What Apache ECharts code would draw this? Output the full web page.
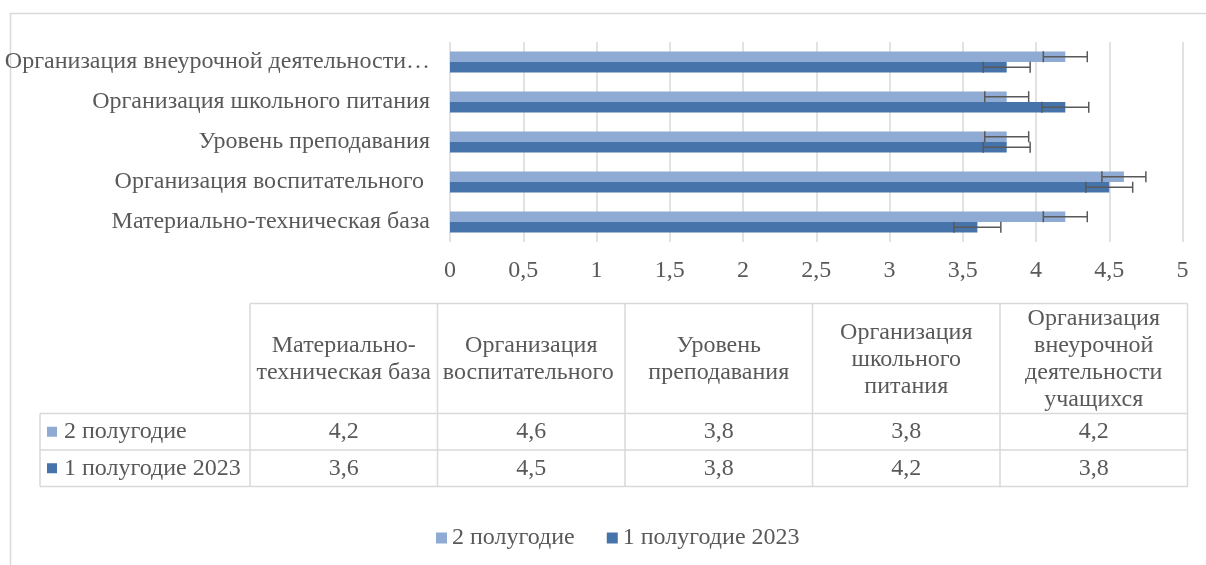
<!DOCTYPE html>
<html>
<head>
<meta charset="utf-8">
<script src="https://cdn.jsdelivr.net/npm/echarts@6/dist/echarts.min.js"></script>
<style>
  html, body { margin: 0; padding: 0; background: #fff; }
  #chart { width: 1206px; height: 565px; }
</style>
</head>
<body>
<div id="chart"></div>
<script>
// --- данные ---
const categories = [
  'Материально-техническая база',
  'Организация воспитательного ',
  'Уровень преподавания',
  'Организация школьного питания',
  'Организация внеурочной деятельности учащихся'
];
const tableHeaders = [
  'Материально-\nтехническая база',
  'Организация\nвоспитательного ',
  'Уровень\nпреподавания',
  'Организация\nшкольного\nпитания',
  'Организация\nвнеурочной\nдеятельности\nучащихся'
];
const seriesNames = ['2 полугодие', '1 полугодие 2023'];
const secondHalf = [4.2, 4.6, 3.8, 3.8, 4.2];
const firstHalf2023 = [3.6, 4.5, 3.8, 4.2, 3.8];
// погрешности (±)
const secondHalfErr = [0.15, 0.15, 0.15, 0.15, 0.15];
const firstHalf2023Err = [0.16, 0.16, 0.16, 0.16, 0.16];

const colors = ['#8FAAD3', '#4673A9'];
const FONT = "'Liberation Serif', 'Times New Roman', serif";
const FS = 24;
const TEXT = '#595959';
const LINE = '#d9d9d9';
const BAR_W = 10.5;

const fmt = v => String(v).replace('.', ',');

// обрезка длинной подписи с многоточием, как в Excel
const ctx = document.createElement('canvas').getContext('2d');
ctx.font = FS + 'px ' + FONT;
function clip(t, maxW) {
  if (ctx.measureText(t).width <= maxW) return t;
  let s = t;
  while (s.length > 1 && ctx.measureText(s.trimEnd() + '…').width > maxW) s = s.slice(0, -1);
  return s.trimEnd() + '…';
}

// --- error bars (custom series) ---
function errorSeries(values, errs, offset) {
  return {
    type: 'custom',
    z: 5,
    silent: true,
    encode: { x: 0, y: 1 },
    data: values.map((v, i) => [v, i, errs[i]]),
    renderItem: (params, api) => {
      const v = api.value(0), c = api.value(1), e = api.value(2);
      const y = api.coord([v, c])[1] + offset;
      const lo = api.coord([v - e, c])[0];
      const hi = api.coord([v + e, c])[0];
      const st = { stroke: '#595959', lineWidth: 1.5 };
      return {
        type: 'group',
        children: [
          { type: 'line', shape: { x1: lo, y1: y, x2: hi, y2: y }, style: st },
          { type: 'line', shape: { x1: lo, y1: y - 5.5, x2: lo, y2: y + 5.5 }, style: st },
          { type: 'line', shape: { x1: hi, y1: y - 5.5, x2: hi, y2: y + 5.5 }, style: st }
        ]
      };
    }
  };
}

// --- таблица данных под графиком ---
function buildTable() {
  const colX = [250, 437.5, 625, 812.5, 1000, 1187.5];
  const legX = 40;
  const rowY = [303.5, 413.5, 450, 486.5];
  const rows = [secondHalf, firstHalf2023];
  const els = [];
  const line = (x1, y1, x2, y2) => els.push({
    type: 'line', shape: { x1, y1, x2, y2 }, style: { stroke: LINE, lineWidth: 1.5 }
  });
  const text = (t, x, y, align) => els.push({
    type: 'text', x, y,
    style: {
      text: t, fill: TEXT, font: FS + 'px ' + FONT,
      align, verticalAlign: 'middle', textAlign: align, textVerticalAlign: 'middle',
      lineHeight: 27
    }
  });
  // линии
  line(colX[0], rowY[0], colX[5], rowY[0]);
  for (let r = 1; r < rowY.length; r++) line(legX, rowY[r], colX[5], rowY[r]);
  colX.forEach(x => line(x, rowY[0], x, rowY[3]));
  line(legX, rowY[1], legX, rowY[3]);
  // заголовки
  tableHeaders.forEach((h, i) => text(h, (colX[i] + colX[i + 1]) / 2, (rowY[0] + rowY[1]) / 2 + 1, 'center'));
  // строки
  rows.forEach((vals, r) => {
    const cy = (rowY[r + 1] + rowY[r + 2]) / 2;
    els.push({ type: 'rect', shape: { x: 47, y: cy - 5, width: 10, height: 10 }, style: { fill: colors[r] } });
    text(seriesNames[r], 64, cy, 'left');
    vals.forEach((v, i) => text(fmt(v), (colX[i] + colX[i + 1]) / 2, cy, 'center'));
  });
  return els;
}

const chart = echarts.init(document.getElementById('chart'));

chart.setOption({
  animation: false,
  textStyle: { fontFamily: FONT },
  grid: { left: 450, right: 23.5, top: 42, height: 200, containLabel: false, outerBoundsMode: 'none' },
  xAxis: {
    type: 'value', min: 0, max: 5, interval: 0.5,
    axisLine: { show: false }, axisTick: { show: false },
    splitLine: { lineStyle: { color: LINE, width: 1.5 } },
    axisLabel: { formatter: fmt, color: TEXT, fontSize: FS, fontFamily: FONT, margin: 17 }
  },
  yAxis: {
    type: 'category', data: categories,
    axisLine: { show: false }, axisTick: { show: false },
    axisLabel: {
      color: TEXT, fontSize: FS, fontFamily: FONT, margin: 20,
      overflow: 'none',
      formatter: t => clip(t, 436)
    }
  },
  legend: {
    data: seriesNames,
    left: 436, top: 526, padding: 0,
    icon: 'rect', itemWidth: 11, itemHeight: 11, itemGap: 32,
    textStyle: { color: TEXT, fontSize: FS, fontFamily: FONT }
  },
  series: [
    { name: seriesNames[0], type: 'bar', data: secondHalf, barWidth: BAR_W, barGap: 0, itemStyle: { color: colors[0] } },
    { name: seriesNames[1], type: 'bar', data: firstHalf2023, barWidth: BAR_W, barGap: 0, itemStyle: { color: colors[1] } },
    errorSeries(secondHalf, secondHalfErr, -BAR_W / 2),
    errorSeries(firstHalf2023, firstHalf2023Err, BAR_W / 2)
  ],
  graphic: [
    { type: 'rect', silent: true, shape: { x: 10.5, y: 13.5, width: 1400, height: 800 },
      style: { fill: 'none', stroke: LINE, lineWidth: 1.5 } },
    { type: 'group', silent: true, children: buildTable() }
  ]
});

window.addEventListener('resize', () => chart.resize());
</script>
</body>
</html>
